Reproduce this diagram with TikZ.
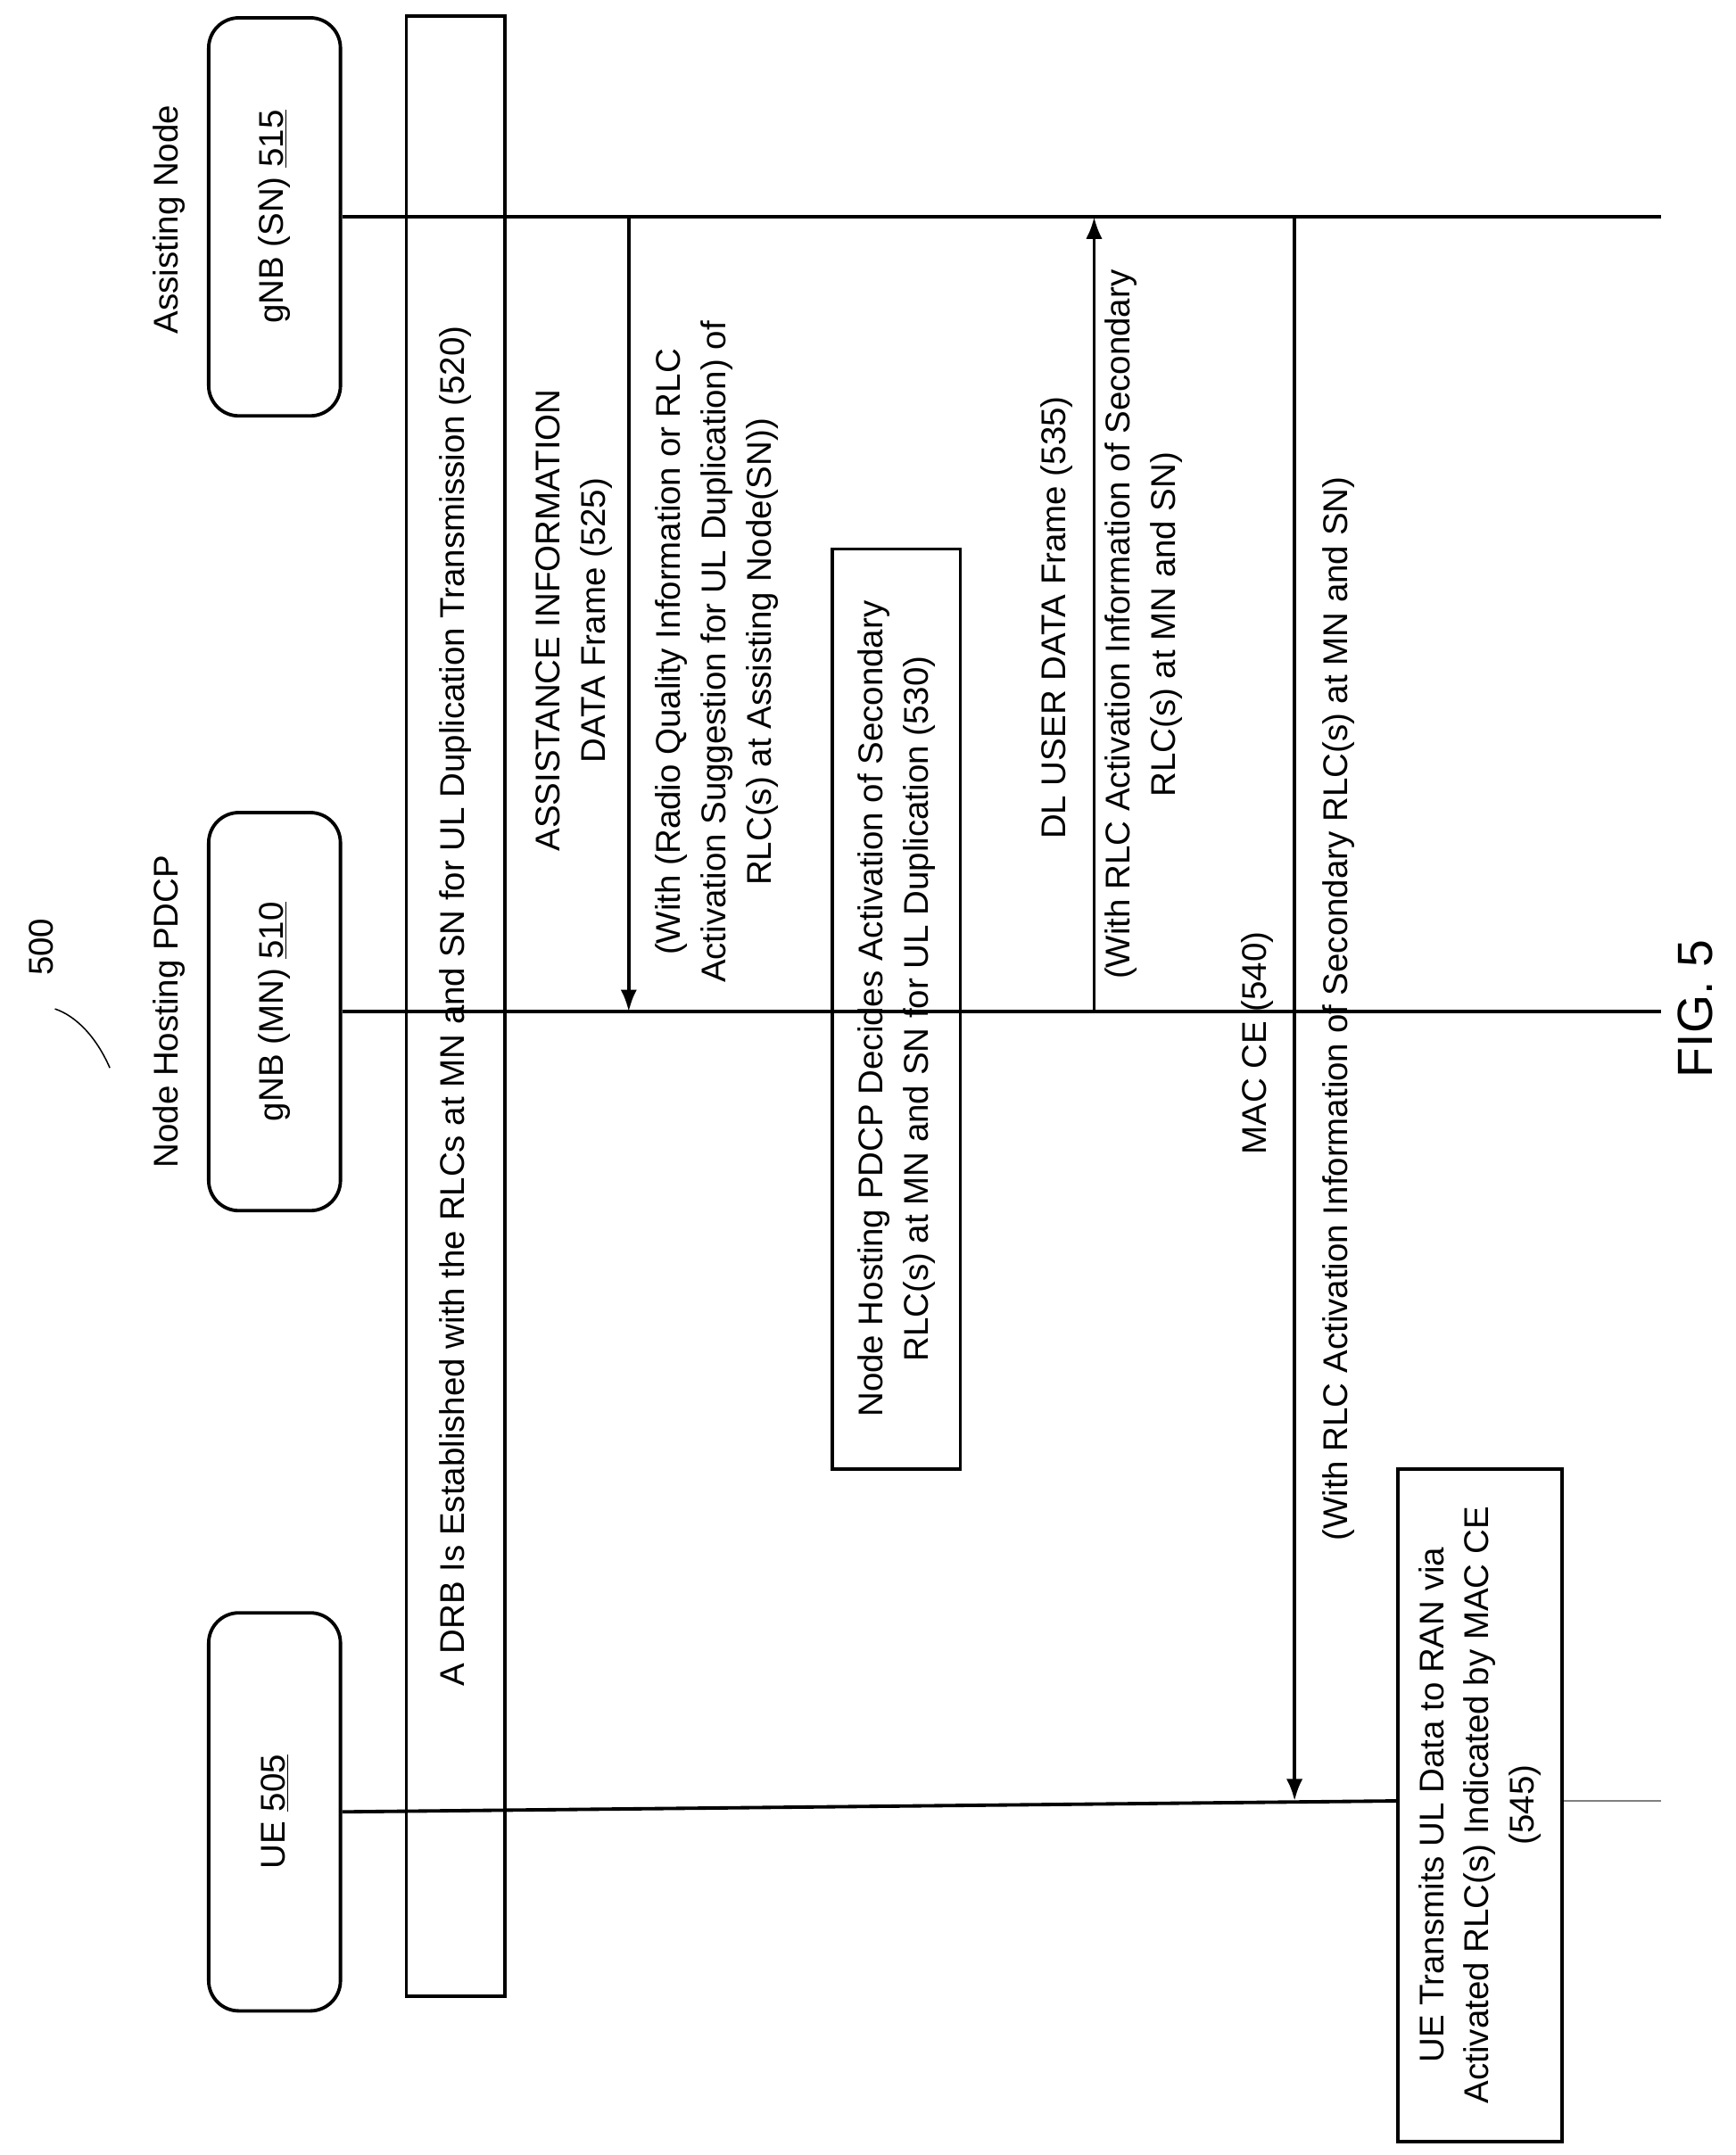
\documentclass[tikz,border=0pt]{standalone}
\usepackage{fontspec}
\setmainfont{Liberation Sans}
\usetikzlibrary{arrows.meta}
\begin{document}
\begin{tikzpicture}[x=1pt,y=-1pt,
  every node/.style={font=\fontsize{25}{33}\selectfont},
  lbl/.style={rotate=90,align=center,inner sep=0pt},
  life/.style={line width=2.5pt},
  msg/.style={line width=2.5pt,-{Latex[length=16pt,width=12pt]}},
  ent/.style={draw,line width=2.5pt,rounded corners=22pt,minimum width=290pt,minimum height=96pt,rotate=90},
  box/.style={draw,line width=2.5pt,rotate=90,align=center}]
\useasboundingbox (0,0) rectangle (1264,1570);
% entities
\node[ent] (ue) at (200,1320) {UE \underline{505}};
\node[ent] (mn) at (200,737) {gNB (MN) \underline{510}};
\node[ent] (sn) at (200,158) {gNB (SN) \underline{515}};
\node[lbl] (mnl) at (123,737) {Node Hosting PDCP};
\node[lbl] (snl) at (123,160) {Assisting Node};
\node[lbl] (n500) at (30,690) {500};
\draw[line width=1pt] (40,735) .. controls (55,740) and (70,755) .. (80,778);
% lifelines
\coordinate (snE) at (1210,158);
\coordinate (mnE) at (1210,737);
\coordinate (ueE) at (1020,1312);
\coordinate (ueE2) at (1210,1312);
\draw[life] (sn.south) -- (snE);
\draw[life] (mn.south) -- (mnE);
\draw[life] (ue.south) -- (ueE);
\draw[line width=1pt,gray] (ueE) -- (ueE2);
% 520
\node[box,minimum width=1443pt,minimum height=72pt] (b520) at (332,733)
  {A DRB Is Established with the RLCs at MN and SN for UL Duplication Transmission (520)};
% 525
\coordinate (a525s) at (458,158); \coordinate (a525e) at (458,737);
\draw[msg] (a525s) -- (a525e);
\node[lbl] (t525) at (418,452) {ASSISTANCE INFORMATION\\DATA Frame (525)};
\node[lbl] (t525b) at (522,475) {(With (Radio Quality Information or RLC\\Activation Suggestion for UL Duplication) of\\RLC(s) at Assisting Node(SN))};
% 530
\node[box,minimum width=670pt,minimum height=93pt] (b530) at (653,735)
  {Node Hosting PDCP Decides Activation of Secondary\\RLC(s) at MN and SN for UL Duplication (530)};
% 535
\coordinate (a535s) at (797,737); \coordinate (a535e) at (797,158);
\draw[msg] (a535s) -- (a535e);
\node[lbl] (t535) at (770,450) {DL USER DATA Frame (535)};
\node[lbl] (t535b) at (833,455) {(With RLC Activation Information of Secondary\\RLC(s) at MN and SN)};
% 540
\coordinate (a540s) at (943,158); \coordinate (a540e) at (943,1312);
\draw[msg] (a540s) -- (a540e);
\node[lbl] (t540) at (916,760) {MAC CE (540)};
\node[lbl] (t540b) at (975,735) {(With RLC Activation Information of Secondary RLC(s) at MN and SN)};
% 545
\node[box,fill=white,minimum width=490pt,minimum height=120pt] (b545) at (1078,1315)
  {UE Transmits UL Data to RAN via\\Activated RLC(s) Indicated by MAC CE\\(545)};
\node[lbl,font=\fontsize{36}{40}\selectfont] (fig) at (1235,735) {FIG. 5};
\end{tikzpicture}
\end{document}
